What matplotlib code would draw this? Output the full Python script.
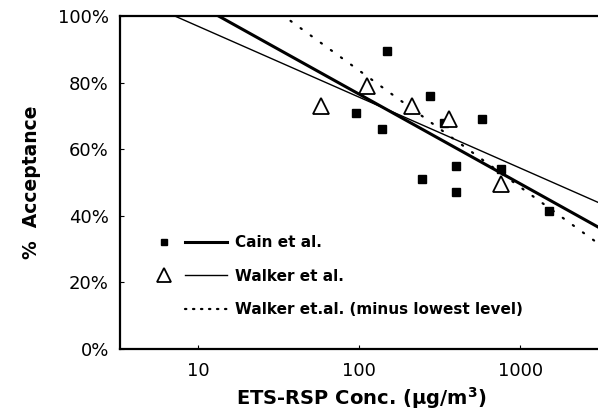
import matplotlib
matplotlib.use("Agg")
import matplotlib.pyplot as plt
import numpy as np
from matplotlib.lines import Line2D
from matplotlib.legend_handler import HandlerTuple

plt.rcParams["font.family"] = "DejaVu Sans"
plt.rcParams["mathtext.fontset"] = "dejavusans"
plt.rcParams["mathtext.default"] = "bf"

# Cain et al. (squares)
cain_x = [96, 138, 149, 246, 276, 338, 400, 400, 575, 755, 1510]
cain_y = [0.71, 0.66, 0.895, 0.51, 0.76, 0.68, 0.55, 0.47, 0.69, 0.54, 0.414]
# Walker et al. (triangles)
walker_x = [58, 112, 213, 363, 760]
walker_y = [0.73, 0.79, 0.73, 0.69, 0.495]

# regression lines  y = a + b*log10(x)
cain_fit = (1.303, -0.269)
walker_fit = (1.182, -0.213)
walker_minus_fit = (1.536, -0.350)

xticks = [10, 100, 1000]
yticks = [0, 0.2, 0.4, 0.6, 0.8, 1.0]

fig = plt.figure(figsize=(5.98, 4.19), dpi=100)
ax = fig.add_axes([0.2007, 0.167, 0.805, 0.795])

xs = np.logspace(np.log10(3.2), np.log10(3300), 200)
ax.plot(xs, cain_fit[0] + cain_fit[1] * np.log10(xs), color="black", lw=2.2)
ax.plot(xs, walker_fit[0] + walker_fit[1] * np.log10(xs), color="black", lw=1.0)
ax.plot(xs, walker_minus_fit[0] + walker_minus_fit[1] * np.log10(xs), color="black",
        lw=1.6, linestyle=(0, (0.6, 5)), dash_capstyle="round")

ax.plot(cain_x, cain_y, "s", color="black", ms=5.5, ls="none")
ax.plot(walker_x, walker_y, "^", mfc="white", mec="black", mew=1.3, ms=11, ls="none")

ax.set_xscale("log")
ax.set_xlim(3.28, 3185)
ax.set_ylim(0, 1.0)
ax.set_xticks(xticks)
ax.set_xticklabels([str(t) for t in xticks], fontsize=13)
ax.minorticks_off()
ax.set_yticks(yticks)
ax.set_yticklabels(["%d%%" % round(t * 100) for t in yticks], fontsize=13)
ax.tick_params(direction="in", length=3, width=0.8, pad=9)
ax.tick_params(axis="y", pad=8)
for s in ax.spines.values():
    s.set_linewidth(1.6)

ax.set_xlabel("ETS-RSP Conc. (\u00b5g/m$^{3}$)", fontsize=14, fontweight="bold", labelpad=4)
ax.set_ylabel("%  Acceptance", fontsize=13.5, fontweight="bold", labelpad=12)

h_cain = (Line2D([], [], marker="s", color="black", ms=5, ls="none"),
          Line2D([], [], color="black", lw=2.2))
h_walker = (Line2D([], [], marker="^", mfc="white", mec="black", mew=1.3, ms=10, ls="none"),
            Line2D([], [], color="black", lw=1.0))
h_minus = (Line2D([], [], ls="none"),
           Line2D([], [], color="black", lw=1.6, linestyle=(0, (0.6, 3)), dash_capstyle="round"))
leg = ax.legend([h_cain, h_walker, h_minus],
                ["Cain et al.", "Walker et al.", "Walker et.al. (minus lowest level)"],
                handler_map={tuple: HandlerTuple(ndivide=2, pad=0.0)},
                loc="lower left", bbox_to_anchor=(0.02, 0.055), frameon=False,
                handlelength=5.5, handletextpad=0.5, labelspacing=1.2,
                prop={"weight": "bold", "size": 11})

fig.savefig("out.png", dpi=100)
